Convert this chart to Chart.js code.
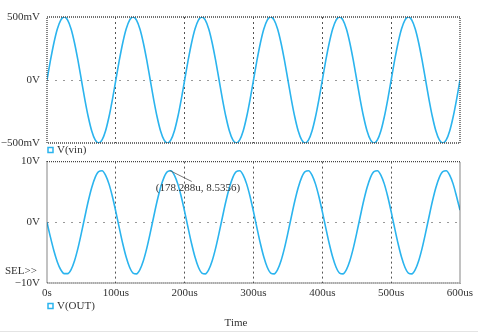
<!DOCTYPE html>
<html>
<head>
<meta charset="utf-8">
<script src="https://cdn.jsdelivr.net/npm/chart.js@4"></script>
<style>
  body { margin: 0; background: #fff; }
  #wrap { position: relative; width: 478px; height: 332px; overflow: hidden; }
  canvas { position: absolute; left: 0; }
  #topChart { top: 0; }
  #botChart { top: 148px; }
  #rule { position: absolute; left: 0; top: 331px; width: 478px; height: 1px; background: #e4e4e4; }
</style>
</head>
<body>
<div id="wrap">
  <canvas id="topChart" width="478" height="160"></canvas>
  <canvas id="botChart" width="478" height="184"></canvas>
  <div id="rule"></div>
</div>
<script>
// time axis in microseconds
const timeUs = [
    0, 5, 10, 15, 20, 25, 30, 35, 40, 45, 50, 55, 60, 65, 70, 75, 80, 85, 90, 95,
    100, 105, 110, 115, 120, 125, 130, 135, 140, 145, 150, 155, 160, 165, 170, 175, 180, 185, 190, 195,
    200, 205, 210, 215, 220, 225, 230, 235, 240, 245, 250, 255, 260, 265, 270, 275, 280, 285, 290, 295,
    300, 305, 310, 315, 320, 325, 330, 335, 340, 345, 350, 355, 360, 365, 370, 375, 380, 385, 390, 395,
    400, 405, 410, 415, 420, 425, 430, 435, 440, 445, 450, 455, 460, 465, 470, 475, 480, 485, 490, 495,
    500, 505, 510, 515, 520, 525, 530, 535, 540, 545, 550, 555, 560, 565, 570, 575, 580, 585, 590, 595,
    600
];

// V(vin) in volts
const vin = [
    0, 0.155, 0.294, 0.405, 0.476, 0.5, 0.476, 0.405, 0.294, 0.155, 0, -0.155, -0.294, -0.405, -0.476, -0.5, -0.476, -0.405, -0.294, -0.155,
    0, 0.155, 0.294, 0.405, 0.476, 0.5, 0.476, 0.405, 0.294, 0.155, 0, -0.155, -0.294, -0.405, -0.476, -0.5, -0.476, -0.405, -0.294, -0.155,
    0, 0.155, 0.294, 0.405, 0.476, 0.5, 0.476, 0.405, 0.294, 0.155, 0, -0.155, -0.294, -0.405, -0.476, -0.5, -0.476, -0.405, -0.294, -0.155,
    0, 0.155, 0.294, 0.405, 0.476, 0.5, 0.476, 0.405, 0.294, 0.155, 0, -0.155, -0.294, -0.405, -0.476, -0.5, -0.476, -0.405, -0.294, -0.155,
    0, 0.155, 0.294, 0.405, 0.476, 0.5, 0.476, 0.405, 0.294, 0.155, 0, -0.155, -0.294, -0.405, -0.476, -0.5, -0.476, -0.405, -0.294, -0.155,
    0, 0.155, 0.294, 0.405, 0.476, 0.5, 0.476, 0.405, 0.294, 0.155, 0, -0.155, -0.294, -0.405, -0.476, -0.5, -0.476, -0.405, -0.294, -0.155,
    0
];

// V(OUT) in volts
const vout = [
    0, -2.45, -4.69, -6.53, -7.82, -8.45, -8.45, -7.79, -6.33, -4.25, -1.75, 0.92, 3.50, 5.73, 7.41, 8.36, 8.49, 7.79, 6.33, 4.25,
    1.75, -0.92, -3.50, -5.73, -7.41, -8.36, -8.49, -7.79, -6.33, -4.25, -1.75, 0.92, 3.50, 5.73, 7.41, 8.36, 8.49, 7.79, 6.33, 4.25,
    1.75, -0.92, -3.50, -5.73, -7.41, -8.36, -8.49, -7.79, -6.33, -4.25, -1.75, 0.92, 3.50, 5.73, 7.41, 8.36, 8.49, 7.79, 6.33, 4.25,
    1.75, -0.92, -3.50, -5.73, -7.41, -8.36, -8.49, -7.79, -6.33, -4.25, -1.75, 0.92, 3.50, 5.73, 7.41, 8.36, 8.49, 7.79, 6.33, 4.25,
    1.75, -0.92, -3.50, -5.73, -7.41, -8.36, -8.49, -7.79, -6.33, -4.25, -1.75, 0.92, 3.50, 5.73, 7.41, 8.36, 8.49, 7.79, 6.33, 4.25,
    1.75, -0.92, -3.50, -5.73, -7.41, -8.36, -8.49, -7.79, -6.33, -4.25, -1.75, 0.92, 3.50, 5.73, 7.41, 8.36, 8.49, 7.79, 6.33, 4.25,
    2.0
];

const xTicks = ["0s", "100us", "200us", "300us", "400us", "500us", "600us"];
const vinTicks = { "0.5": "500mV", "0": "0V", "-0.5": "\u2212500mV" };
const voutTicks = { "10": "10V", "0": "0V", "-10": "\u221210V" };
const cursor = { t: 178.288, v: 8.5356, label: "(178.288u, 8.5356)" };

const LINE = "#2bb4ee";
const FONT = "'Liberation Serif', 'Times New Roman', serif";
const TEXT = "#333";

function points(ys) {
    return timeUs.map((t, i) => ({ x: t, y: ys[i] }));
}

// dotted frame, legend entry and extra text
function decorPlugin(legend, extra) {
    return {
        id: "decor",
        afterDraw(chart) {
            const ctx = chart.ctx;
            const a = chart.chartArea;
            ctx.save();
            ctx.strokeStyle = "#444";
            ctx.lineWidth = 1.3;
            ctx.setLineDash([1, 1]);
            ctx.strokeRect(a.left, a.top, a.right - a.left, a.bottom - a.top);
            ctx.setLineDash([]);
            // legend
            ctx.strokeStyle = LINE;
            ctx.lineWidth = 1.5;
            ctx.strokeRect(legend.x, legend.y - 2.5, 5, 5);
            ctx.fillStyle = TEXT;
            ctx.font = "11px " + FONT;
            ctx.textBaseline = "middle";
            ctx.textAlign = "left";
            ctx.fillText(legend.text, legend.x + 9, legend.y);
            if (extra) extra(chart, ctx);
            ctx.restore();
        }
    };
}

function xScale(showLabels) {
    return {
        type: "linear",
        min: 0,
        max: 600,
        afterBuildTicks: s => { s.ticks = xTicks.map((_, i) => ({ value: i * 100 })); },
        afterFit: s => { s.height = showLabels ? 49 : 17; },
        border: { display: false, dash: [2, 3] },
        grid: {
            drawTicks: false,
            color: c => (c.tick && c.tick.value > 0 && c.tick.value < 600) ? "#555" : "rgba(0,0,0,0)",
            lineWidth: 1
        },
        ticks: {
            display: showLabels,
            padding: 4,
            maxRotation: 0,
            autoSkip: false,
            color: TEXT,
            font: { family: FONT, size: 11 },
            callback: (v, i) => xTicks[i]
        }
    };
}

function yScale(min, max, labels) {
    return {
        min: min,
        max: max,
        afterBuildTicks: s => { s.ticks = [min, 0, max].map(v => ({ value: v })); },
        afterFit: s => { s.width = 47; },
        border: { display: false, dash: [2, 6] },
        grid: {
            drawTicks: false,
            color: c => (c.tick && c.tick.value === 0) ? "#999" : "rgba(0,0,0,0)",
            lineWidth: 1
        },
        ticks: {
            padding: 7,
            color: TEXT,
            font: { family: FONT, size: 11 },
            callback: v => labels[String(v)]
        }
    };
}

function dataset(ys) {
    return {
        data: points(ys),
        borderColor: LINE,
        borderWidth: 1.6,
        pointRadius: 0,
        fill: false,
        cubicInterpolationMode: "monotone"
    };
}

const common = {
    responsive: false,
    animation: false,
    devicePixelRatio: 1,
    plugins: { legend: { display: false }, tooltip: { enabled: false } }
};

new Chart(document.getElementById("topChart").getContext("2d"), {
    type: "line",
    data: { datasets: [dataset(vin)] },
    options: Object.assign({}, common, {
        layout: { padding: { top: 17, right: 18, left: 0, bottom: 0 } },
        scales: { x: xScale(false), y: yScale(-0.5, 0.5, vinTicks) }
    }),
    plugins: [decorPlugin({ x: 48, y: 150, text: "V(vin)" })]
});

new Chart(document.getElementById("botChart").getContext("2d"), {
    type: "line",
    data: { datasets: [dataset(vout)] },
    options: Object.assign({}, common, {
        layout: { padding: { top: 9, right: 18, left: 0, bottom: 0 } },
        scales: { x: xScale(true), y: yScale(-10, 10, voutTicks) }
    }),
    plugins: [decorPlugin({ x: 48, y: 158, text: "V(OUT)" }, (chart, ctx) => {
        const px = chart.scales.x.getPixelForValue(cursor.t);
        const py = chart.scales.y.getPixelForValue(cursor.v);
        ctx.strokeStyle = "#555";
        ctx.lineWidth = 0.8;
        ctx.beginPath();
        ctx.moveTo(px, py);
        ctx.lineTo(px + 22, py + 11);
        ctx.stroke();
        ctx.fillStyle = TEXT;
        ctx.font = "11px " + FONT;
        ctx.textAlign = "left";
        ctx.fillText(cursor.label, px - 14, py + 18);
        ctx.fillText("SEL>>", 5, 271 - 148);
        ctx.textAlign = "center";
        ctx.fillText("Time", 236, 323 - 148);
    })]
});
</script>
</body>
</html>
